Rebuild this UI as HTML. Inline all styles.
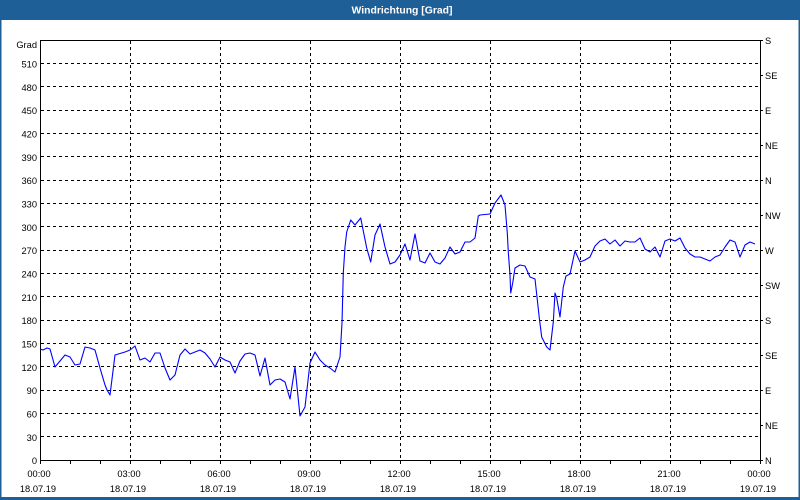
<!DOCTYPE html>
<html><head><meta charset="utf-8"><style>
html,body{margin:0;padding:0;background:#fff;}
svg{display:block;}
text{font-family:"Liberation Sans","DejaVu Sans",sans-serif;font-size:9.3px;fill:#000;}
</style></head><body>
<svg width="800" height="500" viewBox="0 0 800 500" xmlns="http://www.w3.org/2000/svg">
<rect x="0" y="0" width="800" height="500" fill="#ffffff"/>
<rect x="0" y="0" width="800" height="20" fill="#1f5f98"/>
<rect x="0" y="0" width="1.5" height="500" fill="#1f5f98"/>
<rect x="798.5" y="0" width="1.5" height="500" fill="#1f5f98"/>
<rect x="0" y="497" width="800" height="3" fill="#1f5f98"/>
<text x="402" y="13.5" text-anchor="middle" style="fill:#fff;font-weight:bold;font-size:10.4px;">Windrichtung [Grad]</text>

<g stroke="#000" stroke-width="1" stroke-dasharray="3,3" fill="none" shape-rendering="crispEdges">
<path d="M41 63.5H760M41 86.5H760M41 110.5H760M41 133.5H760M41 156.5H760M41 180.5H760M41 203.5H760M41 226.5H760M41 250.5H760M41 273.5H760M41 296.5H760M41 320.5H760M41 343.5H760M41 366.5H760M41 390.5H760M41 413.5H760M41 436.5H760"/>
<path d="M130.5 41V460M220.5 41V460M310.5 41V460M400.5 41V460M490.5 41V460M580.5 41V460M670.5 41V460"/>
</g>
<g stroke="#000" stroke-width="1" fill="none" shape-rendering="crispEdges">
<rect x="40.5" y="40.5" width="720" height="420"/>
<path d="M70.5 460V464M100.5 460V464M130.5 460V464M160.5 460V464M190.5 460V464M220.5 460V464M250.5 460V464M280.5 460V464M310.5 460V464M340.5 460V464M370.5 460V464M400.5 460V464M430.5 460V464M460.5 460V464M490.5 460V464M520.5 460V464M550.5 460V464M580.5 460V464M610.5 460V464M640.5 460V464M670.5 460V464M700.5 460V464M730.5 460V464M760.5 460V464M40.5 460V464"/>
<path d="M760 40.5H763M760 75.5H763M760 110.5H763M760 145.5H763M760 180.5H763M760 215.5H763M760 250.5H763M760 285.5H763M760 320.5H763M760 355.5H763M760 390.5H763M760 425.5H763M760 460.5H763"/>
</g>

<polyline fill="none" stroke="#0000ff" stroke-width="1.1" stroke-linejoin="round" points="40,349 43,350 47,348 50,349 55,367 65,355 70,357 75,365 80,364 85,347 90,348 95,350 100,368 105,385 107,390 110,395 115,355 125,352 130,350 135,346 140,360 145,358 150,362 155,353 160,353 165,368 170,380 175,375 180,355 185,349 190,354 195,352 200,350 205,353 210,359 215,367 220,357 225,360 230,362 235,373 240,361 245,354 250,353 255,355 260,376 265,358 270,385 275,380 280,379 285,382 290,399 295,367 300,416 305,407 310,363 315,352 320,360 325,365 330,368 335,372 340,357 342,323 343.3,273 345,247 346.7,232 350.7,220 355,225 360.7,218 362.7,228 366.7,248 370.7,262 375,235 380,224 385,247 390,264 395,262 400,255 405,244 410,260 415,234 420,261 425,263 430,253 435,262 440,264 445,258 450,247 455,254 460,252 465,242 470,242 475,238 478.3,216 480,215 490,214 495,203 501,195 505,205 507.3,233 508.3,252 510,275 510.7,293 512.7,283 515,268 520,265 525,266 530,277 535,279 539.3,318 541.7,337 546.7,347 550,350 553.3,322 555,293 556.7,298 560,317 563.3,287 566,276 570,274 575,251 580,262 585,260 590,257 595,246 600,241 605,239 610,244 615,240 620,246 625,241 630,242 635,242 640,238 645,249 650,252 655,247 660,257 665,241 670,239 675,241 680,238 685,248 690,254 695,257 700,257 705,259 710,261 715,257 720,255 725,247 730,240 735,242 740,257 745,245 750,242 755,244"/>

<g text-anchor="end">
<text x="37" y="48">Grad</text>
<text x="37" y="67.5">510</text>
<text x="37" y="90.8">480</text>
<text x="37" y="114.2">450</text>
<text x="37" y="137.5">420</text>
<text x="37" y="160.8">390</text>
<text x="37" y="184.2">360</text>
<text x="37" y="207.5">330</text>
<text x="37" y="230.8">300</text>
<text x="37" y="254.2">270</text>
<text x="37" y="277.5">240</text>
<text x="37" y="300.8">210</text>
<text x="37" y="324.2">180</text>
<text x="37" y="347.5">150</text>
<text x="37" y="370.8">120</text>
<text x="37" y="394.2">90</text>
<text x="37" y="417.5">60</text>
<text x="37" y="440.8">30</text>
<text x="37" y="464">0</text>
</g>
<g text-anchor="start">
<text x="765" y="44">S</text>
<text x="765" y="79">SE</text>
<text x="765" y="114">E</text>
<text x="765" y="149">NE</text>
<text x="765" y="184">N</text>
<text x="765" y="219">NW</text>
<text x="765" y="254">W</text>
<text x="765" y="289">SW</text>
<text x="765" y="324">S</text>
<text x="765" y="359">SE</text>
<text x="765" y="394">E</text>
<text x="765" y="429">NE</text>
<text x="765" y="464">N</text>
</g>
<g text-anchor="middle">
<text x="39" y="477">00:00</text><text x="38" y="492">18.07.19</text>
<text x="129" y="477">03:00</text><text x="128" y="492">18.07.19</text>
<text x="219" y="477">06:00</text><text x="218" y="492">18.07.19</text>
<text x="309" y="477">09:00</text><text x="308" y="492">18.07.19</text>
<text x="399" y="477">12:00</text><text x="398" y="492">18.07.19</text>
<text x="489" y="477">15:00</text><text x="488" y="492">18.07.19</text>
<text x="579" y="477">18:00</text><text x="578" y="492">18.07.19</text>
<text x="669" y="477">21:00</text><text x="668" y="492">18.07.19</text>
<text x="759" y="477">00:00</text><text x="758" y="492">19.07.19</text>
</g>
</svg>
</body></html>
